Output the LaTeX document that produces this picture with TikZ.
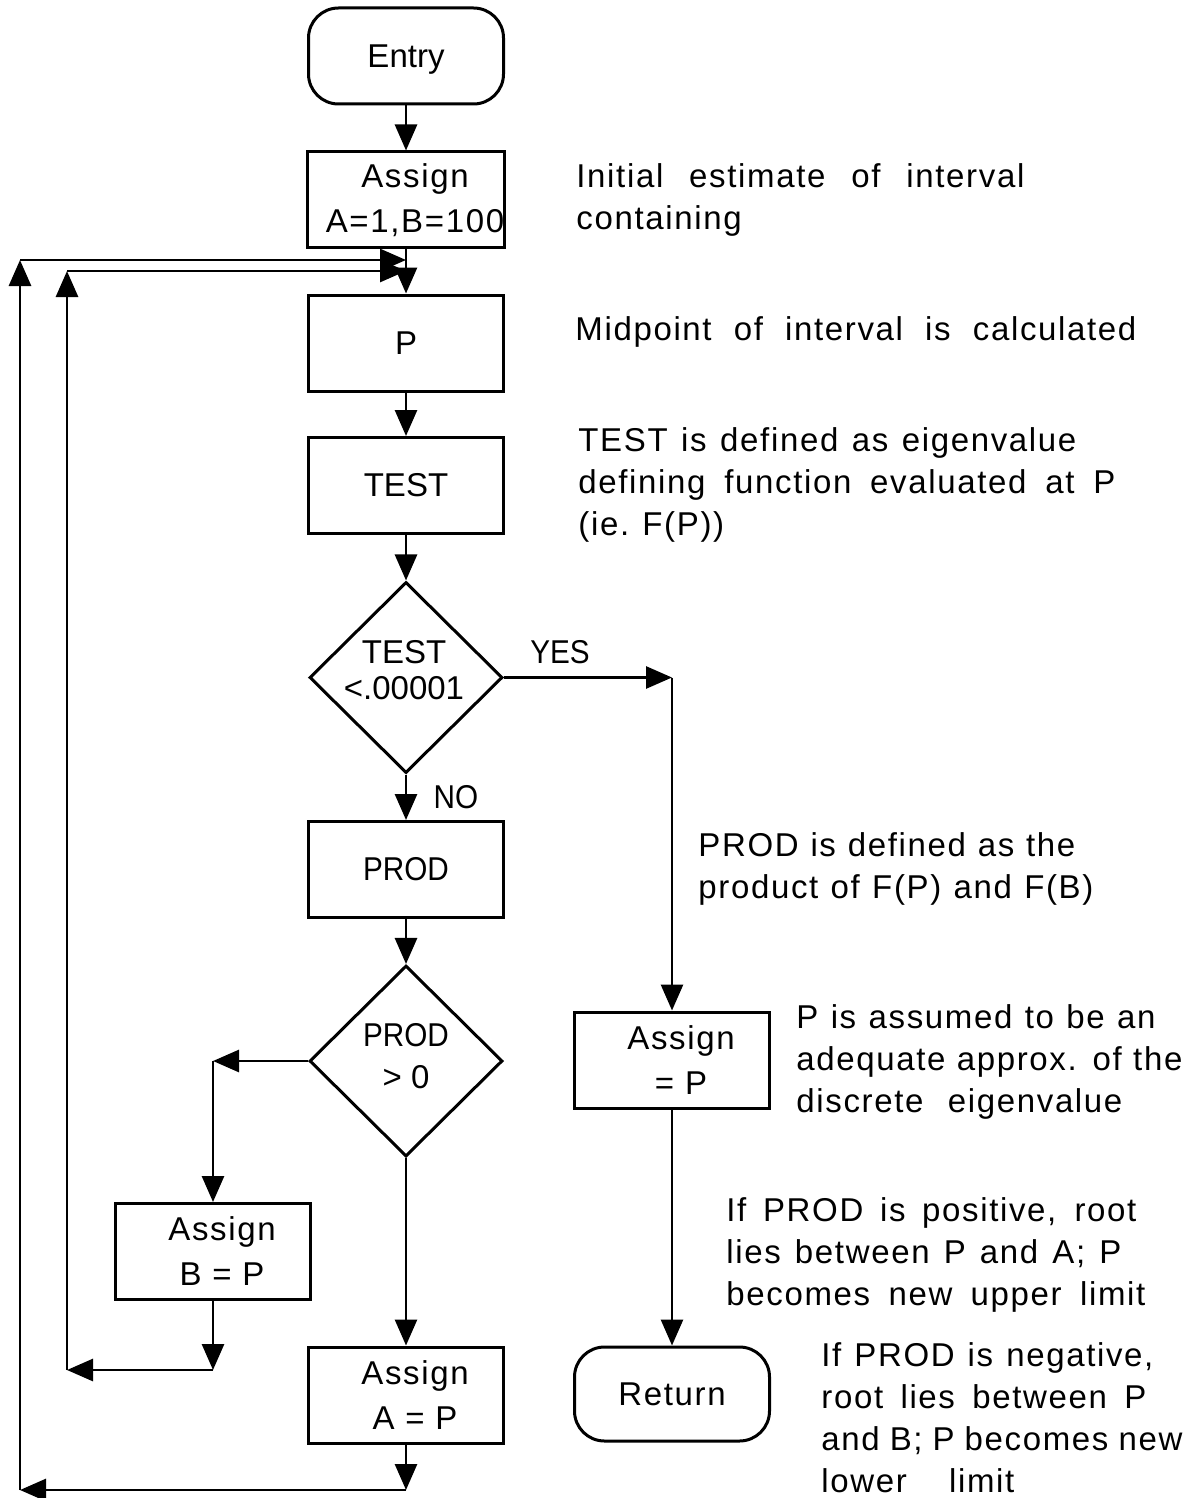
\documentclass[tikz,border=0pt]{standalone}
\usepackage{fontspec}
\setmainfont[LetterSpace=5]{Liberation Sans}
\newfontfamily\plainfont{Liberation Sans}
\newfontfamily\narrowfont[FakeStretch=0.9]{Liberation Sans}
\usetikzlibrary{arrows.meta,shapes.geometric}
% spread one line of a note over a given width (in pt)
\newcommand\fitline[2]{\makebox[#1pt][s]{#2}}
% nudge box labels slightly to the right
\newcommand\nudge{\hspace*{9pt}}

\begin{document}
\begin{tikzpicture}[x=0.5pt,y=-0.5pt,
  every node/.style={font=\fontsize{16.5pt}{21pt}\selectfont},
  proc/.style={draw, line width=1.5pt, minimum width=97.5pt, minimum height=48pt,
    inner sep=0pt, align=center, font=\fontsize{16.5pt}{22.5pt}\selectfont},
  term/.style={proc, rounded corners=15pt},
  decision/.style={draw, diamond, line width=1.5pt, minimum width=96.5pt,
    minimum height=95.5pt, inner sep=0pt},
  note/.style={anchor=north west, align=left, inner sep=0pt,
    execute at begin node=\strut},
  tag/.style={inner sep=0pt, align=center},
  flow/.style={line width=1.4pt, -{Triangle[length=13pt,width=11pt]}},
]
\useasboundingbox (0,0) rectangle (1190,1498);

% main column
\node[term, text depth=0pt] (entry) at (406,56) {\plainfont Entry};
\node[proc] (init) at (406,200) {\nudge Assign\\\nudge A=1,B=100};
\node[proc] (mid) at (406,343) {\plainfont P};
\node[proc] (test) at (406,485.5) {\plainfont TEST};
\node[decision] (conv) at (406,677.5) {};
\node[tag, font=\plainfont\fontsize{16.5pt}{18pt}\selectfont] (convtxt) at (404,670) {TEST\\<.00001};
\node[proc] (prod) at (406,869.5) {\narrowfont PROD};
\node[decision] (sign) at (406,1061) {};
\node[tag] (signtxt) at (406,1056) {\narrowfont PROD\\\plainfont > 0};
\node[proc] (setb) at (213,1251.5) {\nudge Assign\\\nudge B = P};
\node[proc] (seta) at (406,1395) {\nudge Assign\\\nudge A = P};

% right column
\node[proc] (accept) at (672,1060) {\nudge Assign\\\nudge = P};
\node[term, minimum height=47pt] (ret) at (672,1394) {Return};

% branch labels
\node[tag] (yes) at (560,652) {\narrowfont YES};
\node[tag] (no) at (456,797) {\narrowfont NO};

% corner points of the routed connectors
\coordinate (yesturn) at (672,677.5);
\coordinate (leftturn) at (213,1061);
\coordinate (bdrop) at (213,1370);
\coordinate (innerfoot) at (67,1370);
\coordinate (innertop) at (67,271);
\coordinate (innerjoin) at (406,271);
\coordinate (adrop) at (406,1490);
\coordinate (outerfoot) at (20,1490);
\coordinate (outertop) at (20,260);
\coordinate (outerjoin) at (406,260);

% connectors
\draw[flow] (entry) -- (init);
\draw[flow] (init) -- (mid);
\draw[flow] (mid) -- (test);
\draw[flow] (test) -- (conv);
\draw[flow] (conv.east) -- (yesturn);
\draw[flow] (yesturn) -- (accept.north);
\draw[flow] (accept) -- (ret);
\draw[flow] (conv) -- (prod);
\draw[flow] (prod) -- (sign);
\draw[flow] (sign.west) -- (leftturn);
\draw[flow] (leftturn) -- (setb.north);
\draw[flow] (setb.south) -- (bdrop);
\draw[flow] (bdrop) -- (innerfoot);
\draw[flow] (innerfoot) -- (innertop);
\draw[flow] (innertop) -- (innerjoin);
\draw[flow] (sign) -- (seta);
\draw[flow] (seta.south) -- (adrop);
\draw[flow] (adrop) -- (outerfoot);
\draw[flow] (outerfoot) -- (outertop);
\draw[flow] (outertop) -- (outerjoin);

% explanatory notes
\node[note] (n1) at (576,163.6) {\fitline{224}{Initial estimate of interval}\\containing};
\node[note] (n2) at (575,310.6) {\fitline{280.5}{Midpoint of interval is calculated}};
\node[note] (n3) at (578,427.6) {\fitline{249}{TEST is defined as eigenvalue}\\
  \fitline{268.5}{defining function evaluated at P}\\\fitline{71.5}{(ie. F(P))}};
\node[note] (n4) at (698,832.6) {\fitline{188.5}{PROD is defined as the}\\
  \fitline{197.5}{product of F(P) and F(B)}};
\node[note] (n5) at (796,1004.6) {\fitline{179.5}{P is assumed to be an}\\
  \fitline{193}{adequate approx. of the}\\\fitline{163}{discrete eigenvalue}};
\node[note] (n6) at (726,1197.6) {\fitline{205}{If PROD is positive, root}\\
  \fitline{197.5}{lies between P and A; P}\\\fitline{209.5}{becomes new upper limit}};
\node[note] (n7) at (821,1342.6) {\fitline{166}{If PROD is negative,}\\
  \fitline{162.5}{root lies between P}\\\fitline{180.5}{and B; P becomes new}\\
  \fitline{96.5}{lower limit}};
\end{tikzpicture}
\end{document}
